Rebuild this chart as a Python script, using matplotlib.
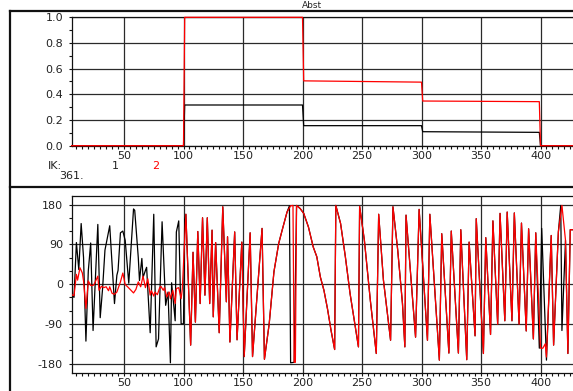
import matplotlib
matplotlib.use('Agg')
import matplotlib.pyplot as plt
from matplotlib.lines import Line2D
from matplotlib.ticker import MultipleLocator

# top panel: magnitude steps
mag_x = [6, 100, 101, 200, 201, 300, 301, 399, 400, 428]
mag_red = [0, 0, 1.0, 1.0, 0.505, 0.495, 0.348, 0.343, 0, 0]
mag_black = [0, 0, 0.317, 0.317, 0.156, 0.156, 0.109, 0.104, 0, 0]

# bottom panel: phase (degrees)
red_start_x = [6, 8, 10, 11, 13, 15, 16, 18, 20, 22, 24, 25, 28, 29, 31, 33, 35, 37, 38, 40,
               42, 44, 47, 49, 51, 53, 58, 60, 62, 64, 66, 68, 70, 72, 73, 75, 76, 78, 80, 81,
               83, 84, 86, 88, 89, 91, 93, 94, 96, 98, 99]
red_start_y = [-24, -26, 22, 9, 37, 25, 7, -55, 7, -3, -3, 0, 18, -14, -5, -8, -6, -15, -6, -21,
               -23, -18, 5, 25, -1, -6, -20, -12, 5, -6, 18, -8, 12, -25, -15, -27, -18, -24, -8, -5,
               -14, -8, -29, -18, -33, -14, -44, -10, -8, -33, -11]
black_start_x = [6, 8, 10, 12, 14, 16, 18, 20, 22, 24, 28, 30, 32, 34, 38, 42, 44, 45, 47, 49,
                 51, 54, 58, 59, 62, 63, 65, 66, 68, 69, 72, 75, 77, 79, 82, 85, 87, 89, 90, 93,
                 94, 96, 98, 100, 101]
black_start_y = [-25, -30, 94, 33, 137, 60, -129, 30, 93, -105, 135, -76, -10, 77, 132, -44, 20, 31, 116, 120,
                 99, 2, 170, 167, 60, 8, 58, 15, 31, 38, -110, 158, -142, -124, 141, -48, -18, -178, 3, -83,
                 118, 143, -90, -90, 146]
mid1_x = [102, 106, 108, 110, 112, 114, 116, 118, 120, 122, 124, 125, 127, 130, 133, 136, 137, 139, 143, 145,
          149, 151, 156, 158, 166, 168, 172, 176, 180, 183, 187]
mid1_y = [158, -138, 72, -86, 119, -44, 150, -25, 150, -44, 122, -74, 94, -110, 175, -40, 107, -131, 118, -126,
          95, -164, 116, -164, 126, -170, -90, 28, 92, 123, 163]
red_wrap_x = [190, 192, 193, 194]
red_wrap_y = [177, 178, -177, -177]
black_wrap_x = [189, 190, 193]
black_wrap_y = [177, -178, -177]
mid2_x = [195, 198, 201, 205, 209, 212, 215, 218, 221, 224, 227, 228, 232, 236, 240, 244, 247, 248, 252, 257,
          262, 264, 268, 274, 276, 280, 284, 286, 287, 295, 298, 305, 307, 315, 317, 323, 325, 331, 333, 338,
          340, 345, 346, 352, 354, 358, 360, 364, 366, 370, 372, 376, 378, 382, 384, 388, 390, 394, 396]
mid2_y = [178, 171, 160, 129, 84, 62, 16, -14, -56, -105, -148, 178, 137, 62, -22, -90, -142, 176, 99, -37,
          -157, 158, 9, -127, 175, 77, -44, -142, 156, -120, 169, -127, 158, -172, 114, -156, 120, -156, 123, -171,
          95, -117, 148, -157, 105, -114, 143, -91, 160, -83, 163, -83, 161, -91, 138, -106, 125, -124, 116]
red_end_x = [400, 402, 404, 405, 409, 411, 415, 418, 421, 423, 425, 428]
red_end_y = [-145, -145, -135, -165, 110, -138, 118, 178, 99, -157, 123, 123]
black_end_x = [399, 401, 405, 409, 411, 415, 417, 418, 421, 423, 425, 428]
black_end_y = [-145, 126, -172, 110, -138, 118, 178, -105, 99, -157, 123, 123]

red_x = red_start_x + mid1_x + red_wrap_x + mid2_x + red_end_x
red_y = red_start_y + mid1_y + red_wrap_y + mid2_y + red_end_y
black_x = black_start_x + mid1_x + black_wrap_x + mid2_x + black_end_x
black_y = black_start_y + mid1_y + black_wrap_y + mid2_y + black_end_y

mag_ticks = [0.0, 0.2, 0.4, 0.6, 0.8, 1.0]
mag_labels = ['0.0', '0.2', '0.4', '0.6', '0.8', '1.0']
phase_ticks = [-180, -90, 0, 90, 180]
phase_labels = ['-180', '-90', '0', '90', '180']
x_ticks = [50, 100, 150, 200, 250, 300, 350, 400]

W, H = 573, 391
fig = plt.figure(figsize=(W / 100, H / 100), dpi=100)


def fx(px):
    return px / W


def fy(py):
    return 1 - py / H


ax1 = fig.add_axes([fx(72), fy(145.7), fx(573) - fx(72), fy(17.3) - fy(145.7)])
ax2 = fig.add_axes([fx(72), fy(372.5), fx(573) - fx(72), fy(195.7) - fy(372.5)])

xmin, xmax = 6.3, 427.3
grid_col = '#2a2a2a'
font = dict(family='DejaVu Sans', size=8, color='#222222')

for ax in (ax1, ax2):
    ax.set_xlim(xmin, xmax)
    ax.xaxis.set_major_locator(MultipleLocator(50))
    ax.xaxis.set_minor_locator(MultipleLocator(5))
    ax.grid(True, which='major', color=grid_col, lw=0.9)
    ax.spines['right'].set_visible(False)
    for s in ('left', 'top', 'bottom'):
        ax.spines[s].set_linewidth(0.9)
        ax.spines[s].set_color('#111111')
    ax.tick_params(axis='both', which='both', direction='out', length=2.5, width=0.8,
                   color='#111111', labelsize=8, labelcolor='#222222')
    ax.tick_params(axis='x', which='major', pad=1.5)
    ax.tick_params(axis='y', which='major', pad=4)
    ax.set_xticks(x_ticks)
    ax.set_xticklabels([str(t) for t in x_ticks], fontfamily='DejaVu Sans')

ax1.plot(mag_x, mag_black, color='black', lw=0.9, clip_on=False, zorder=3)
ax1.plot(mag_x, mag_red, color='#ff0000', lw=0.9, clip_on=False, zorder=4)
ax1.set_ylim(0, 1)
ax1.set_yticks(mag_ticks)
ax1.set_yticklabels(mag_labels, fontfamily='DejaVu Sans')
ax1.yaxis.set_minor_locator(MultipleLocator(0.1))

ax2.plot(black_x, black_y, color='black', lw=0.9, zorder=3)
ax2.plot(red_x, red_y, color='#ff0000', lw=0.9, zorder=4)
ax2.set_ylim(-200, 200)
ax2.set_yticks(phase_ticks)
ax2.set_yticklabels(phase_labels, fontfamily='DejaVu Sans')
ax2.yaxis.set_minor_locator(MultipleLocator(30))

# outer frame and panel divider
fig.add_artist(Line2D([fx(10), 1], [fy(10.7), fy(10.7)], color='#111111', lw=1.6))
fig.add_artist(Line2D([fx(10), fx(10)], [0, fy(10.7)], color='#111111', lw=1.6))
fig.add_artist(Line2D([fx(10), 1], [fy(186.8), fy(186.8)], color='#111111', lw=1.6))

# labels
fig.text(fx(312), fy(0.8), 'Abst', ha='center', va='top', family='DejaVu Sans', size=6.5, color='#222222')
fig.text(fx(48), fy(166), 'IK:', ha='left', va='center', **font)
fig.text(fx(115), fy(166), '1', ha='center', va='center', **font)
fig.text(fx(156), fy(166), '2', ha='center', va='center', family='DejaVu Sans', size=8, color='#ff0000')
fig.text(fx(59), fy(176.5), '361.', ha='left', va='center', **font)

fig.savefig('out.png', dpi=100)
